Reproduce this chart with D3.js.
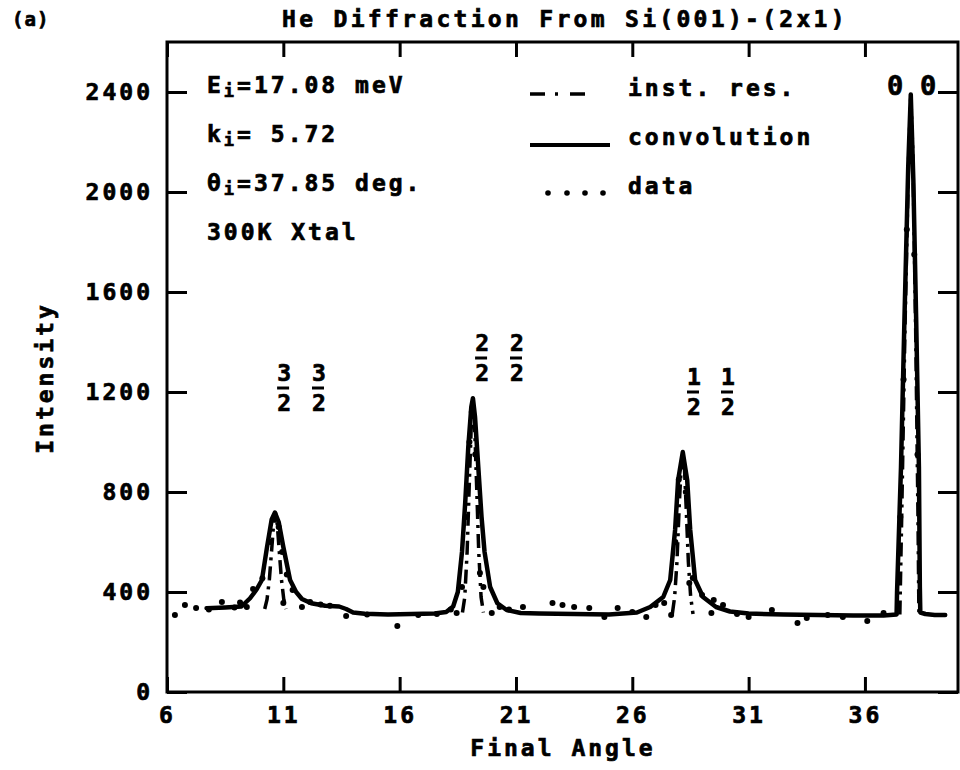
<!DOCTYPE html>
<html>
<head>
<meta charset="utf-8">
<script src="https://cdn.jsdelivr.net/npm/d3@7"></script>
<style>
body { margin: 0; background: #fff; }
text { font-family: "DejaVu Sans Mono", monospace; font-weight: bold; fill: #000; stroke: #000; stroke-width: 0.7px; }
</style>
</head>
<body>
<div id="chart"></div>
<script>
// tick values
var xTicks = [6, 11, 16, 21, 26, 31, 36];
var yTicks = [0, 400, 800, 1200, 1600, 2000, 2400];

// convolution curve [final angle, intensity]
var convolution = [
  [7.7,335],[8.5,338],[9.2,342],[9.57,375],[9.85,410],[10.08,448],[10.3,580],[10.5,690],
  [10.64,718],[10.8,680],[11.0,580],[11.29,448],[11.55,400],[11.8,372],[12.2,355],[12.8,345],
  [13.4,342],[13.7,332],[14.0,318],[14.5,313],[15.5,310],[16.5,312],[17.5,314],[18.0,320],
  [18.3,342],[18.5,400],[18.68,560],[18.82,760],[18.95,980],[19.08,1140],[19.15,1175],[19.24,1100],
  [19.38,900],[19.52,700],[19.65,560],[19.89,420],[20.2,355],[20.6,328],[21.2,316],[22.0,314],
  [23.5,312],[25.0,310],[26.2,318],[26.77,340],[27.33,380],[27.63,448],[27.84,648],[27.97,848],
  [28.17,960],[28.36,848],[28.49,648],[28.7,448],[29.04,380],[29.6,340],[30.2,322],[31.0,314],
  [32.5,310],[34.0,308],[35.5,306],[36.8,306],[37.36,310],[37.38,400],[37.55,900],[37.7,1500],
  [37.86,2100],[37.97,2390],[38.08,2050],[38.2,1500],[38.32,900],[38.36,420],[38.38,318],[38.6,312],
  [39.0,308],[39.45,308]
];

// instrument resolution, one narrow peak per diffraction order
var instRes1 = [[10.2,332],[10.3,370],[10.4,450],[10.5,570],[10.58,670],[10.66,718],[10.74,670],[10.82,570],[10.92,450],[11.02,370],[11.12,332]];
var instRes2 = [[18.7,318],[18.8,380],[18.9,560],[19.0,850],[19.08,1070],[19.15,1170],[19.22,1070],[19.3,850],[19.4,560],[19.5,380],[19.6,318]];
var instRes3 = [[27.72,312],[27.82,380],[27.92,520],[28.02,750],[28.1,900],[28.17,955],[28.24,900],[28.31,750],[28.41,520],[28.51,380],[28.61,312]];
var instRes4 = [[37.5,310],[37.58,700],[37.72,1450],[37.88,2150],[37.97,2390],[38.06,2150],[38.18,1450],[38.28,700],[38.32,310]];

// measured points
var dataPts = [
  [6.34,308],[6.77,348],[7.25,336],[7.8,330],[8.36,360],[8.9,338],[9.14,358],[9.43,340],
  [9.7,412],[10.1,455],[10.45,600],[10.6,690],[10.8,660],[10.95,560],[11.0,356],[11.15,470],
  [11.4,408],[11.8,340],[12.15,360],[12.6,350],[13.0,345],[13.7,304],[14.6,310],[15.9,264],
  [16.8,308],[17.6,312],[18.2,330],[18.45,316],[18.68,420],[18.85,700],[19.0,1000],[19.1,1120],
  [19.25,950],[19.45,476],[19.6,420],[19.96,316],[20.3,340],[20.7,330],[21.3,340],[22.57,356],
  [23.0,348],[23.5,340],[24.15,336],[24.8,300],[25.37,336],[26.0,320],[26.6,300],[27.0,348],
  [27.37,356],[27.67,308],[27.85,600],[28.0,850],[28.3,800],[28.45,436],[28.6,456],[29.0,388],
  [29.4,316],[29.5,368],[29.9,348],[30.5,312],[31.0,300],[32.0,328],[33.1,276],[33.5,296],
  [34.4,308],[35.05,300],[36.1,284],[36.8,316],[37.52,700],[37.66,1250],[37.8,1850],[38.12,1750],[38.26,950]
];

// text content
var infoLines = [["E","i","=17.08 meV"],["k","i","= 5.72"],["θ","i","=37.85 deg."],["300K Xtal","",""]];
var legendNames = ["inst. res.", "convolution", "data"];
var orderLabels = [
  {num: "3", den: "2", at: [10.99, 12.49], top: 364},
  {num: "2", den: "2", at: [19.5, 21.0], top: 334},
  {num: "1", den: "2", at: [28.61, 30.07], top: 368}
];
var zeroLabels = [37.3, 38.72];

var W = 960, H = 770;
var svg = d3.select("#chart").append("svg").attr("width", W).attr("height", H);

var x = d3.scaleLinear().domain([6, 40]).range([167, 958]);
var y = d3.scaleLinear().domain([0, 2600]).range([692, 42]);

function styleAxis(g) {
  g.select(".domain").remove();
  g.selectAll("line").attr("stroke", "#000").attr("stroke-width", 3);
  g.selectAll("text").attr("font-size", 23).attr("letter-spacing", 3)
    .style("font-family", '"DejaVu Sans Mono", monospace').style("font-weight", "bold");
}

svg.append("g").attr("transform", "translate(0,692)")
  .call(d3.axisBottom(x).tickValues(xTicks).tickSizeInner(-15).tickSizeOuter(0).tickPadding(15).tickFormat(d3.format("d")))
  .call(styleAxis);
svg.append("g").attr("transform", "translate(0,42)")
  .call(d3.axisTop(x).tickValues(xTicks).tickSizeInner(-15).tickSizeOuter(0).tickFormat(""))
  .call(styleAxis);
svg.append("g").attr("transform", "translate(167,0)")
  .call(d3.axisLeft(y).tickValues(yTicks).tickSizeInner(-20).tickSizeOuter(0).tickPadding(14).tickFormat(d3.format("d")))
  .call(styleAxis);
svg.append("g").attr("transform", "translate(958,0)")
  .call(d3.axisRight(y).tickValues(yTicks).tickSizeInner(-20).tickSizeOuter(0).tickFormat(""))
  .call(styleAxis);

// frame
svg.append("rect").attr("x", 167).attr("y", 42).attr("width", 958 - 167).attr("height", 692 - 42)
  .attr("fill", "none").attr("stroke", "#000").attr("stroke-width", 3);

var line = d3.line().x(function (d) { return x(d[0]); }).y(function (d) { return y(d[1]); });

svg.append("path").datum(convolution).attr("d", line)
  .attr("fill", "none").attr("stroke", "#000").attr("stroke-width", 4.5)
  .attr("stroke-linejoin", "round").attr("stroke-linecap", "round");

[instRes1, instRes2, instRes3, instRes4].forEach(function (pk) {
  svg.append("path").datum(pk).attr("d", line)
    .attr("fill", "none").attr("stroke", "#000").attr("stroke-width", 3.5)
    .attr("stroke-dasharray", "14,6,3,6");
});

svg.selectAll(".pt").data(dataPts).enter().append("circle")
  .attr("class", "pt")
  .attr("cx", function (d) { return x(d[0]); })
  .attr("cy", function (d) { return y(d[1]); })
  .attr("r", 3).attr("fill", "#000");

// titles
svg.append("text").attr("x", 12).attr("y", 26).attr("font-size", 19).attr("letter-spacing", 1).text("(a)");
svg.append("text").attr("x", 565).attr("y", 27).attr("text-anchor", "middle")
  .attr("font-size", 23).attr("letter-spacing", 3.3).text("He Diffraction From Si(001)-(2x1)");
svg.append("text").attr("x", 563).attr("y", 756).attr("text-anchor", "middle")
  .attr("font-size", 23).attr("letter-spacing", 3).text("Final Angle");
svg.append("text").attr("transform", "translate(53,378) rotate(-90)").attr("text-anchor", "middle")
  .attr("font-size", 23).attr("letter-spacing", 3).text("Intensity");

// run conditions
infoLines.forEach(function (l, i) {
  var t = svg.append("text").attr("x", 207).attr("y", 93 + i * 49)
    .attr("font-size", 23).attr("letter-spacing", 3);
  t.append("tspan").text(l[0]);
  if (l[1]) {
    t.append("tspan").attr("font-size", 17).attr("dy", 4).text(l[1]);
    t.append("tspan").attr("dy", -4).text(l[2]);
  }
});

// legend
var lg = svg.append("g");
lg.append("line").attr("x1", 530).attr("x2", 587).attr("y1", 94).attr("y2", 94)
  .attr("stroke", "#000").attr("stroke-width", 3.5).attr("stroke-dasharray", "15,10,3,12");
lg.append("line").attr("x1", 530).attr("x2", 610).attr("y1", 145).attr("y2", 145)
  .attr("stroke", "#000").attr("stroke-width", 4);
[548, 567, 585, 603].forEach(function (px) {
  lg.append("circle").attr("cx", px).attr("cy", 193).attr("r", 2.8).attr("fill", "#000");
});
legendNames.forEach(function (n, i) {
  lg.append("text").attr("x", 628).attr("y", 96 + i * 49)
    .attr("font-size", 23).attr("letter-spacing", 3).text(n);
});

// diffraction order labels
orderLabels.forEach(function (o) {
  o.at.forEach(function (v) {
    var cx = x(v);
    svg.append("text").attr("x", cx + 1).attr("y", o.top + 17).attr("text-anchor", "middle")
      .attr("font-size", 23).text(o.num);
    svg.append("line").attr("x1", cx - 6).attr("x2", cx + 6).attr("y1", o.top + 24).attr("y2", o.top + 24)
      .attr("stroke", "#000").attr("stroke-width", 3);
    svg.append("text").attr("x", cx + 1).attr("y", o.top + 47).attr("text-anchor", "middle")
      .attr("font-size", 23).text(o.den);
  });
});
zeroLabels.forEach(function (v) {
  svg.append("text").attr("x", x(v)).attr("y", 95).attr("text-anchor", "middle")
    .attr("font-size", 27).text("0");
});
</script>
</body>
</html>
